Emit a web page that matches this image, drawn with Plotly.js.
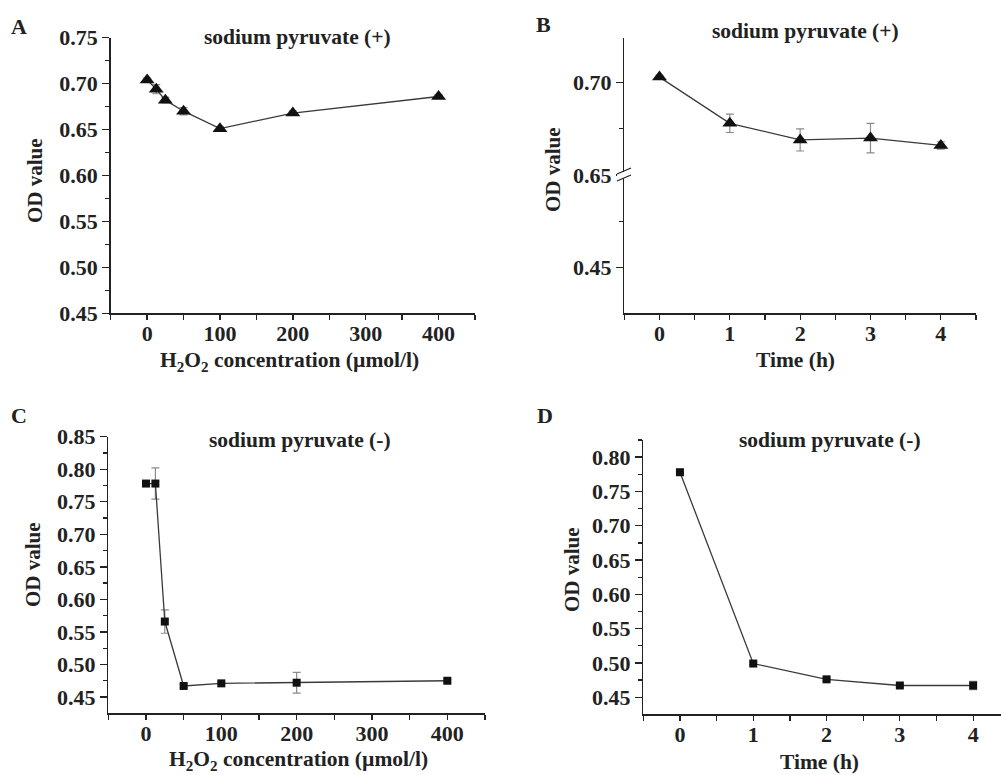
<!DOCTYPE html>
<html><head><meta charset="utf-8">
<script src="https://cdn.plot.ly/plotly-3.0.1.min.js"></script>
<style>html,body{margin:0;padding:0;background:#fff}#chart{width:1001px;height:775px}</style>
</head><body><div id="chart"></div>
<script>
// Panel A: sodium pyruvate (+), H2O2 concentration
const concA = [0, 12.5, 25, 50, 100, 200, 400];
const odA = [0.704, 0.694, 0.682, 0.670, 0.651, 0.668, 0.686];
const errA = [0.002, 0.005, 0.003, 0.004, 0.002, 0.002, 0.002];
// Panel B: sodium pyruvate (+), time
const timeB = [0, 1, 2, 3, 4];
const odB = [0.703, 0.678, 0.669, 0.670, 0.666];
const errB = [0.001, 0.005, 0.006, 0.008, 0.002];
// Panel C: sodium pyruvate (-), H2O2 concentration
const concC = [0, 12.5, 25, 50, 100, 200, 400];
const odC = [0.778, 0.778, 0.566, 0.467, 0.471, 0.472, 0.475];
const errC = [0.002, 0.024, 0.018, 0.003, 0.002, 0.016, 0.002];
// Panel D: sodium pyruvate (-), time
const timeD = [0, 1, 2, 3, 4];
const odD = [0.778, 0.499, 0.476, 0.467, 0.467];
const errD = [0.002, 0.002, 0.002, 0.002, 0.006];

// tick labels
const concTicks = [0, 100, 200, 300, 400];
const timeTicks = [0, 1, 2, 3, 4];
const yTicksA = [0.45, 0.50, 0.55, 0.60, 0.65, 0.70, 0.75];
const yTicksBUpper = [0.70];
const yTicksBLower = [0.45, 0.65];
const yTicksC = [0.45, 0.50, 0.55, 0.60, 0.65, 0.70, 0.75, 0.80, 0.85];
const yTicksD = [0.45, 0.50, 0.55, 0.60, 0.65, 0.70, 0.75, 0.80];

const FONT = '"Liberation Serif", "Times New Roman", serif';
const W = 1001, H = 775;
const px = v => v / W;
const py = v => 1 - v / H;

function trace(x, y, err, xa, ya, sym, size) {
  return {
    x: x, y: y, xaxis: xa, yaxis: ya, type: 'scatter', mode: 'lines+markers',
    line: {color: '#3a3a3a', width: 1.3},
    marker: {symbol: sym, size: size, color: '#111'},
    error_y: {type: 'data', array: err, visible: true, color: '#8a8a8a', thickness: 1.2, width: 4},
    showlegend: false, hoverinfo: 'x+y', cliponaxis: false
  };
}

const tickfont = {family: FONT, size: 22, color: '#222'};
function xax(domain, range, ticks, minor) {
  return {domain: domain, range: range, tickmode: 'array', tickvals: ticks, ticktext: ticks.map(t => '<b>' + t + '</b>'),
    showline: true, linecolor: '#222', linewidth: 1.5, ticklabelstandoff: -5,
    ticks: 'outside', ticklen: 5, tickwidth: 1.3, tickcolor: '#222', showgrid: false, zeroline: false,
    tickfont: tickfont, fixedrange: true,
    minor: {dtick: minor, tick0: 0, ticks: 'outside', ticklen: 5, tickwidth: 1.3, tickcolor: '#222', showgrid: false}};
}
function yax(domain, range, anchor, tickvals, minorvals) {
  const o = {domain: domain, range: range, anchor: anchor, showline: true, linecolor: '#222', linewidth: 1.5,
    ticks: 'outside', ticklen: 7, tickwidth: 1.3, tickcolor: '#222', showgrid: false, zeroline: false,
    tickfont: tickfont, fixedrange: true,
    tickmode: 'array', tickvals: tickvals, ticktext: tickvals.map(v => '<b>' + v.toFixed(2) + '</b>')};
  if (minorvals) o.minor = {tickmode: 'array', tickvals: minorvals, ticks: 'outside', ticklen: 4, tickwidth: 1.3, tickcolor: '#222', showgrid: false};
  return o;
}

const data = [
  trace(concA, odA, errA, 'x', 'y', 'triangle-up', 13),
  trace(timeB, odB, errB, 'x2', 'y2', 'triangle-up', 13),
  trace(concC, odC, errC, 'x3', 'y3', 'square', 8),
  trace(timeD, odD, errD, 'x4', 'y4', 'square', 8),
  {x: [], y: [], xaxis: 'x2', yaxis: 'y5', type: 'scatter', showlegend: false}
];

const minorA = [0.475,0.525,0.575,0.625,0.675,0.725];
const minorC = [0.475,0.525,0.575,0.625,0.675,0.725,0.775,0.825];
const yA = yax([py(313.3), py(37.7)], [0.45, 0.75], 'x', yTicksA, minorA);
const yB = yax([py(175), py(38.3)], [0.65, 0.724], 'x2', yTicksBUpper, [0.675]);
const yB2 = yax([py(313.3), py(175)], [0.35, 0.6502], 'x2', yTicksBLower, [0.55]);
const yC = yax([py(713.3), py(436.7)], [0.425, 0.85], 'x3', yTicksC, minorC);
const yD = yax([py(714.3), py(440)], [0.425, 0.825], 'x4', yTicksD, minorC);

const xA = xax([px(110.7), px(475)], [-50, 450], concTicks, 50); xA.anchor = 'y';
const xB = xax([px(624.3), px(976)], [-0.5, 4.5], timeTicks, 0.5); xB.anchor = 'y5';
const xC = xax([px(108.3), px(485)], [-50, 450], concTicks, 50); xC.anchor = 'y3';
const xD = xax([px(643.3), 1], [-0.5, 4.38], timeTicks, 0.5); xD.anchor = 'y4';

function ann(text, x, y, size, extra) {
  return Object.assign({text: '<b>' + text + '</b>', xref: 'paper', yref: 'paper', x: px(x), y: py(y),
    xanchor: 'center', yanchor: 'middle', showarrow: false, font: {family: FONT, size: size, color: '#222'}}, extra || {});
}

const annotations = [
  ann('A', 19, 26, 22), ann('B', 543, 25, 22), ann('C', 19, 415, 22), ann('D', 545, 415, 22),
  ann('sodium pyruvate (+)', 297, 37, 21.5), ann('sodium pyruvate (+)', 805, 31, 21.5),
  ann('sodium pyruvate (-)', 300, 440, 21.5), ann('sodium pyruvate (-)', 830, 440, 21.5),
  ann('H<sub>2</sub>O<sub>2</sub> concentration (µmol/l)', 289, 362, 21.5),
  ann('Time (h)', 795, 360, 21.5),
  ann('H<sub>2</sub>O<sub>2</sub> concentration (µmol/l)', 298, 760, 21.5),
  ann('Time (h)', 819, 762, 21.5),
  ann('OD value', 35, 181, 21, {textangle: -90}),
  ann('OD value', 553, 170, 21, {textangle: -90}),
  ann('OD value', 33, 565, 21, {textangle: -90}),
  ann('OD value', 572, 570, 21, {textangle: -90})
];

const shapes = [
  {type: 'rect', xref: 'paper', yref: 'paper', x0: px(617), x1: px(631), y0: py(172), y1: py(178), fillcolor: '#fff', line: {width: 0}},
  {type: 'line', xref: 'paper', yref: 'paper', x0: px(617), x1: px(631), y0: py(174), y1: py(168), line: {color: '#222', width: 1.3}},
  {type: 'line', xref: 'paper', yref: 'paper', x0: px(617), x1: px(631), y0: py(181), y1: py(175), line: {color: '#222', width: 1.3}}
];

const layout = {
  width: W, height: H, margin: {l: 0, r: 0, t: 0, b: 0},
  paper_bgcolor: '#fff', plot_bgcolor: '#fff', showlegend: false,
  font: {family: FONT, color: '#222'},
  xaxis: xA, yaxis: yA, xaxis2: xB, yaxis2: yB, xaxis3: xC, yaxis3: yC, xaxis4: xD, yaxis4: yD, yaxis5: yB2,
  annotations: annotations, shapes: shapes
};

Plotly.newPlot('chart', data, layout, {displayModeBar: false, staticPlot: true});
</script></body></html>
